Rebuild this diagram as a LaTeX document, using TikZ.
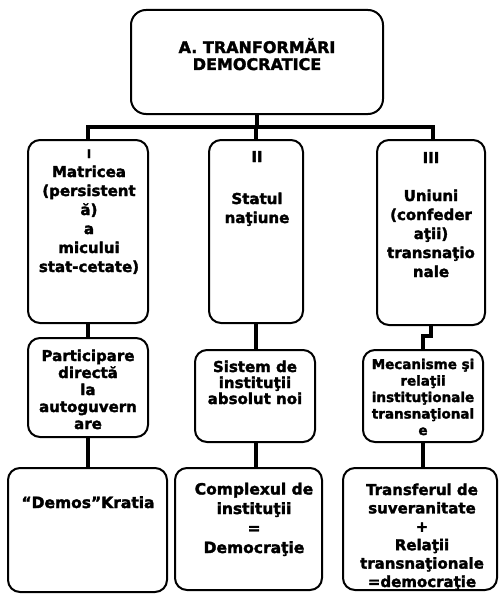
\documentclass[tikz,border=0pt]{standalone}
\usepackage{fontspec}
\setmainfont{DejaVu Sans}[BoldFeatures={FakeBold=2}]
\begin{document}
\begin{tikzpicture}[x=1pt,y=-1pt,
  box/.style={draw, line width=2pt, rounded corners=12pt, inner sep=0pt},
  conn/.style={line width=4pt},
  txt/.style={align=center, inner sep=0pt, anchor=base, font=\bfseries\fontsize{15}{19}\selectfont}]
\useasboundingbox (0,0) rectangle (499,594);
% boxes
\node[box, minimum width=252pt, minimum height=104pt, rounded corners=15pt] (top) at (257,62) {};
\node[box, minimum width=120pt, minimum height=183pt] (r1c1) at (88,231.5) {};
\node[box, minimum width=94pt,  minimum height=183pt] (r1c2) at (256,231.5) {};
\node[box, minimum width=108pt, minimum height=185pt] (r1c3) at (431,232.5) {};
\node[box, minimum width=120pt, minimum height=99pt] (r2c1) at (88,387.5) {};
\node[box, minimum width=120pt, minimum height=92pt] (r2c2) at (255,396) {};
\node[box, minimum width=120pt, minimum height=92pt] (r2c3) at (423,396) {};
\node[box, minimum width=159pt, minimum height=124pt] (r3c1) at (87.5,530) {};
\node[box, minimum width=147pt, minimum height=122pt] (r3c2) at (248.5,529) {};
\node[box, minimum width=154pt, minimum height=122pt] (r3c3) at (420,529) {};
% texts (anchored at the baseline of the last line)
\node[txt, font=\bfseries\fontsize{16}{17}\selectfont] (ttop) at (257,70) {A. TRANFORMĂRI\\DEMOCRATICE};
\node[txt] (t11) at (89,272) {{\fontsize{12}{19}\selectfont I}\\Matricea\\(persistent\\ă)\\a\\micului\\stat-cetate)};
\node[txt] (t12) at (257,223) {II\\[23pt]Statul\\naţiune};
\node[txt] (t13) at (431,277) {III\\[19pt]Uniuni\\(confeder\\aţii)\\transnaţio\\nale};
\node[txt, font=\bfseries\fontsize{15}{17}\selectfont] (t21) at (88,429) {Participare\\directă\\la\\autoguvern\\are};
\node[txt, font=\bfseries\fontsize{15}{16}\selectfont] (t22) at (255,404) {Sistem de\\instituţii\\absolut noi};
\node[txt, font=\bfseries\fontsize{13.5}{16.5}\selectfont] (t23) at (423,435) {Mecanisme şi\\relaţii\\instituţionale\\transnaţional\\e};
\node[txt, font=\bfseries\fontsize{15.5}{19}\selectfont] (t31) at (88,508) {“Demos”Kratia};
\node[txt, font=\bfseries\fontsize{15.5}{19.5}\selectfont] (t32) at (254,553) {Complexul de\\instituţii\\=\\Democraţie};
\node[txt, font=\bfseries\fontsize{15}{18.4}\selectfont] (t33) at (422,587) {Transferul de\\suveranitate\\+\\Relaţii\\transnaţionale\\=democraţie};
% connectors
\coordinate (bar) at (0,127);
\draw[conn] (top.south) -- (top.south |- bar);
\draw[conn] (r1c1.north) -- (r1c1.north |- bar) -- ([xshift=2pt]r1c3.north |- bar) -- ([xshift=2pt]r1c3.north);
\draw[conn] (r1c2.north) -- (r1c2.north |- bar);
\draw[conn] (r1c1.south) -- (r2c1.north);
\draw[conn] (r1c2.south) -- (r1c2.south |- r2c2.north);
\draw[conn] (r1c3.south) -- ++(0,10) -| (r2c3.north);
\draw[conn] (r2c1.south) -- (r2c1.south |- r3c1.north);
\draw[conn] ([xshift=1pt]r2c2.south) -- ([xshift=1pt]r2c2.south |- r3c2.north);
\draw[conn] (r2c3.south) -- (r2c3.south |- r3c3.north);
\end{tikzpicture}
\end{document}
